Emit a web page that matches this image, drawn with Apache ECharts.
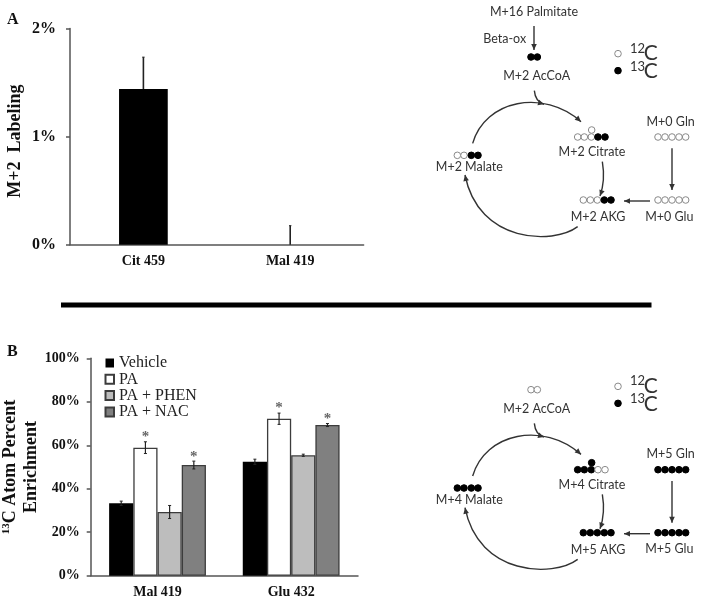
<!DOCTYPE html>
<html><head><meta charset="utf-8">
<script src="https://cdn.jsdelivr.net/npm/echarts@6/dist/echarts.min.js"></script>
<style>html,body{margin:0;padding:0;background:#fff}#c{width:701px;height:605px}</style>
</head><body><div id="c"></div>
<script>
// Panel A data
const catsA = ['Cit 459', 'Mal 419'];
const valuesA = [1.44, 0];
const errUpA = [0.295, 0.176];
// Panel B data
const catsB = ['Mal 419', 'Glu 432'];
const treatments = ['Vehicle', 'PA', 'PA + PHEN', 'PA + NAC'];
const vehicle = [33.3, 52.4];
const pa = [58.9, 72.2];
const phen = [29.3, 55.4];
const nac = [50.9, 69.3];
const errVehicle = [1, 1.2];
const errPa = [2.7, 2.6];
const errPhen = [3, 0.5];
const errNac = [1.8, 0.7];
const starred = [false, true, false, true];
// Pathway labels and carbon states (o = 12C, x = 13C)
const pathwayTop = {palm:'M+16 Palmitate', beta:'Beta-ox', ac:'M+2 AcCoA', cit:'M+2 Citrate', mal:'M+2 Malate', akg:'M+2 AKG', gln:'M+0 Gln', glu:'M+0 Glu',
  acC:'xx', citC:'oooxx', citTop:'o', malC:'ooxx', akgC:'oooxx', glnC:'ooooo', gluC:'ooooo'};
const pathwayBottom = {ac:'M+2 AcCoA', cit:'M+4 Citrate', mal:'M+4 Malate', akg:'M+5 AKG', gln:'M+5 Gln', glu:'M+5 Glu',
  acC:'oo', citC:'xxxoo', citTop:'x', malC:'xxxx', akgC:'xxxxx', glnC:'xxxxx', gluC:'xxxxx'};

const serif = '"Liberation Serif","Times New Roman",serif';
const sans = 'Lato,"Open Sans",sans-serif';
const axisColor = '#555';
const treatmentVals = [vehicle, pa, phen, nac];
const treatmentErr = [errVehicle, errPa, errPhen, errNac];
const fills = ['#000000', '#ffffff', '#bdbdbd', '#808080'];
const barW = 24.2;

function px(z){ return 420 + z/3; }
function label(z1, z2, text, dy, size){
  return {type:'text', silent:true, x:px(z1), y:z2/3+dy, style:{text, font:`${size||12.5}px ${sans}`, fill:'#333', align:'center', verticalAlign:'middle'}};
}
function dots(xs, zy, code, dy){
  return code.split('').map((c,i)=>({type:'circle', silent:true, shape:{cx:px(xs[i]), cy:zy/3+dy, r:3.3},
    style:{fill:c==='x'?'#000':'#fff', stroke:c==='x'?'#000':'#8a8a8a', lineWidth:1}}));
}
function curve(p, dy){
  const P = p.map(v=>[px(v[0]), v[1]/3+dy]);
  const e = P[3], c = P[2];
  const L = Math.hypot(e[0]-c[0], e[1]-c[1]);
  const ux=(e[0]-c[0])/L, uy=(e[1]-c[1])/L, s=6, w=2.8;
  return [
    {type:'bezierCurve', silent:true, shape:{x1:P[0][0],y1:P[0][1],cpx1:P[1][0],cpy1:P[1][1],cpx2:P[2][0],cpy2:P[2][1],x2:e[0],y2:e[1]}, style:{stroke:'#333',fill:null,lineWidth:1.4}},
    {type:'polygon', silent:true, shape:{points:[[e[0],e[1]],[e[0]-ux*s-uy*w,e[1]-uy*s+ux*w],[e[0]-ux*s+uy*w,e[1]-uy*s-ux*w]]}, style:{fill:'#333'}}
  ];
}
function straight(x1,y1,x2,y2,dy){
  return curve([[x1,y1],[x1+(x2-x1)/3,y1+(y2-y1)/3],[x1+2*(x2-x1)/3,y1+2*(y2-y1)/3],[x2,y2]],dy);
}
function isoLegend(zy, zyDot, sup, code, dy){
  return [...dots([594],zyDot,code,dy),
    {type:'text', silent:true, x:px(630), y:zy/3+dy-5, style:{text:sup,font:`13px ${sans}`,fill:'#333',align:'left',verticalAlign:'middle'}},
    {type:'text', silent:true, x:px(671), y:zy/3+dy, style:{text:'C',font:`21px ${sans}`,fill:'#333',align:'left',verticalAlign:'middle'}}];
}
function pathway(d, dy){
  const five=[714,735,756,777,797], akgX=[490,511,532,553,573], citX=[473,493,514,534,555];
  let g = [];
  if(d.palm){ g.push(label(342,37,d.palm,dy), label(254,116,d.beta,dy), ...straight(342,78,342,150,dy)); }
  g.push(...dots([333,352],171,d.acC,dy), label(350,228,d.ac,dy));
  g.push(...isoLegend(160,161,'12','o',dy), ...isoLegend(214,212,'13','x',dy));
  g.push(...curve([[343,272],[345,295],[356,308],[372,313]],dy));
  g.push(...curve([[158,430],[195,300],[370,265],[483,365]],dy));
  g.push(...curve([[473,680],[400,735],[175,730],[135,525]],dy));
  g.push(...curve([[547,485],[553,520],[550,560],[540,588]],dy));
  g.push(...straight(756,445,756,570,dy), ...straight(690,603,612,603,dy));
  g.push(...dots(citX,411,d.citC,dy), ...dots([515],390,d.citTop,dy), label(516,457,d.cit,dy));
  g.push(...dots([112,132,154,174],466,d.malC,dy), label(148,502,d.mal,dy));
  g.push(...dots(akgX,600,d.akgC,dy), label(534,652,d.akg,dy));
  g.push(label(752,365,d.gln,dy), ...dots(five,411,d.glnC,dy));
  g.push(...dots(five,600,d.gluC,dy), label(748,650,d.glu,dy));
  return g;
}

const errA = catsA.map((c,i)=>[i, valuesA[i], errUpA[i]]);
const errB = [];
catsB.forEach((c,i)=>treatments.forEach((t,j)=>errB.push([i, treatmentVals[j][i], treatmentErr[j][i], j, starred[j]?1:0])));

const chart = echarts.init(document.getElementById('c'));
chart.setOption({
  animation:false,
  backgroundColor:'#fff',
  textStyle:{fontFamily:serif},
  grid:[
    {left:70, top:28.5, width:293.6, height:216.2, outerBoundsMode:'none'},
    {left:90.7, top:358.3, width:267.3, height:217.4, outerBoundsMode:'none'}
  ],
  legend:{data:treatments, orient:'vertical', left:104.5, top:355, padding:0, itemWidth:8.5, itemHeight:9, itemGap:0.3, icon:'rect',
    selectedMode:false, textStyle:{fontFamily:serif, fontSize:16, color:'#222'}},
  xAxis:[
    {type:'category', gridIndex:0, data:catsA, axisTick:{show:false}, axisLine:{lineStyle:{color:axisColor,width:1.5}},
      axisLabel:{fontFamily:serif, fontWeight:'bold', fontSize:14, color:'#111', margin:10}},
    {type:'category', gridIndex:1, data:catsB, axisTick:{show:false}, axisLine:{lineStyle:{color:axisColor,width:1.5}},
      axisLabel:{fontFamily:serif, fontWeight:'bold', fontSize:14, color:'#111', margin:10}}
  ],
  yAxis:[
    {type:'value', gridIndex:0, min:0, max:2, interval:1, splitLine:{show:false},
      axisLine:{show:true,lineStyle:{color:axisColor,width:1.5}}, axisTick:{show:true,length:4,lineStyle:{color:axisColor,width:1.5}},
      axisLabel:{fontFamily:serif, fontWeight:'bold', fontSize:16, color:'#111', margin:14, formatter:'{value}%'},
      name:'M+2  Labeling', nameLocation:'middle', nameGap:46, nameRotate:90,
      nameTextStyle:{fontFamily:serif, fontWeight:'bold', fontSize:18, color:'#111', padding:[0,9,0,0]}},
    {type:'value', gridIndex:1, min:0, max:100, interval:20, splitLine:{show:false},
      axisLine:{show:true,lineStyle:{color:axisColor,width:1.5}}, axisTick:{show:true,length:4,lineStyle:{color:axisColor,width:1.5}},
      axisLabel:{fontFamily:serif, fontWeight:'bold', fontSize:14, color:'#111', margin:11, formatter:'{value}%'},
      name:'{sup|13}{t|C Atom Percent}\n{t|Enrichment}', nameLocation:'middle', nameGap:43, nameRotate:90,
      nameTextStyle:{rich:{
        t:{fontFamily:serif, fontWeight:'bold', fontSize:18, color:'#111', lineHeight:21},
        sup:{fontFamily:serif, fontWeight:'bold', fontSize:11, color:'#111', verticalAlign:'top', lineHeight:21}}}}
  ],
  series:[
    {type:'bar', xAxisIndex:0, yAxisIndex:0, data:valuesA, barWidth:48.7, itemStyle:{color:'#000'}, silent:true},
    {type:'custom', xAxisIndex:0, yAxisIndex:0, data:errA, encode:{x:0,y:1}, silent:true, clip:false,
      renderItem(p, api){
        const a = api.coord([api.value(0), api.value(1)]);
        const b = api.coord([api.value(0), api.value(1)+api.value(2)]);
        return {type:'group', children:[
          {type:'line', shape:{x1:a[0],y1:a[1],x2:b[0],y2:b[1]}, style:{stroke:'#222',lineWidth:1.6}},
          {type:'line', shape:{x1:b[0]-1.2,y1:b[1],x2:b[0]+1.2,y2:b[1]}, style:{stroke:'#222',lineWidth:1}}
        ]};
      }},
    ...treatments.map((t,j)=>({type:'bar', name:t, xAxisIndex:1, yAxisIndex:1, data:treatmentVals[j], barWidth:barW, barGap:0,
      silent:true, itemStyle:{color:fills[j], borderColor:j===0?'#000':'#3c3c3c', borderWidth:j===0?0:1.3}})),
    {type:'custom', xAxisIndex:1, yAxisIndex:1, data:errB, encode:{x:0,y:1}, silent:true, clip:false, z:5,
      renderItem(p, api){
        const j = api.value(3), off = (j-1.5)*barW;
        const m = api.value(1), e = api.value(2);
        const a = api.coord([api.value(0), m+e]), b = api.coord([api.value(0), m-e]);
        const x = a[0]+off;
        const kids = [
          {type:'line', shape:{x1:x,y1:a[1],x2:x,y2:b[1]}, style:{stroke:'#222',lineWidth:1.2}},
          {type:'line', shape:{x1:x-1.5,y1:a[1],x2:x+1.5,y2:a[1]}, style:{stroke:'#222',lineWidth:1}},
          {type:'line', shape:{x1:x-1.5,y1:b[1],x2:x+1.5,y2:b[1]}, style:{stroke:'#222',lineWidth:1}}
        ];
        if(api.value(4)) kids.push({type:'text', x:x, y:a[1]+3, style:{text:'*', font:`bold 15px ${serif}`, fill:'#666', align:'center', verticalAlign:'bottom'}});
        return {type:'group', children:kids};
      }}
  ],
  graphic:{elements:[
    {type:'text', silent:true, x:7, y:20, style:{text:'A', font:`bold 16px ${serif}`, fill:'#111', align:'left', verticalAlign:'middle'}},
    {type:'text', silent:true, x:7, y:352, style:{text:'B', font:`bold 16px ${serif}`, fill:'#111', align:'left', verticalAlign:'middle'}},
    {type:'rect', silent:true, shape:{x:61, y:302.6, width:590.5, height:4.8}, style:{fill:'#000'}},
    ...pathway(pathwayTop, 0),
    ...pathway(pathwayBottom, 332.7)
  ]}
});
</script></body></html>
